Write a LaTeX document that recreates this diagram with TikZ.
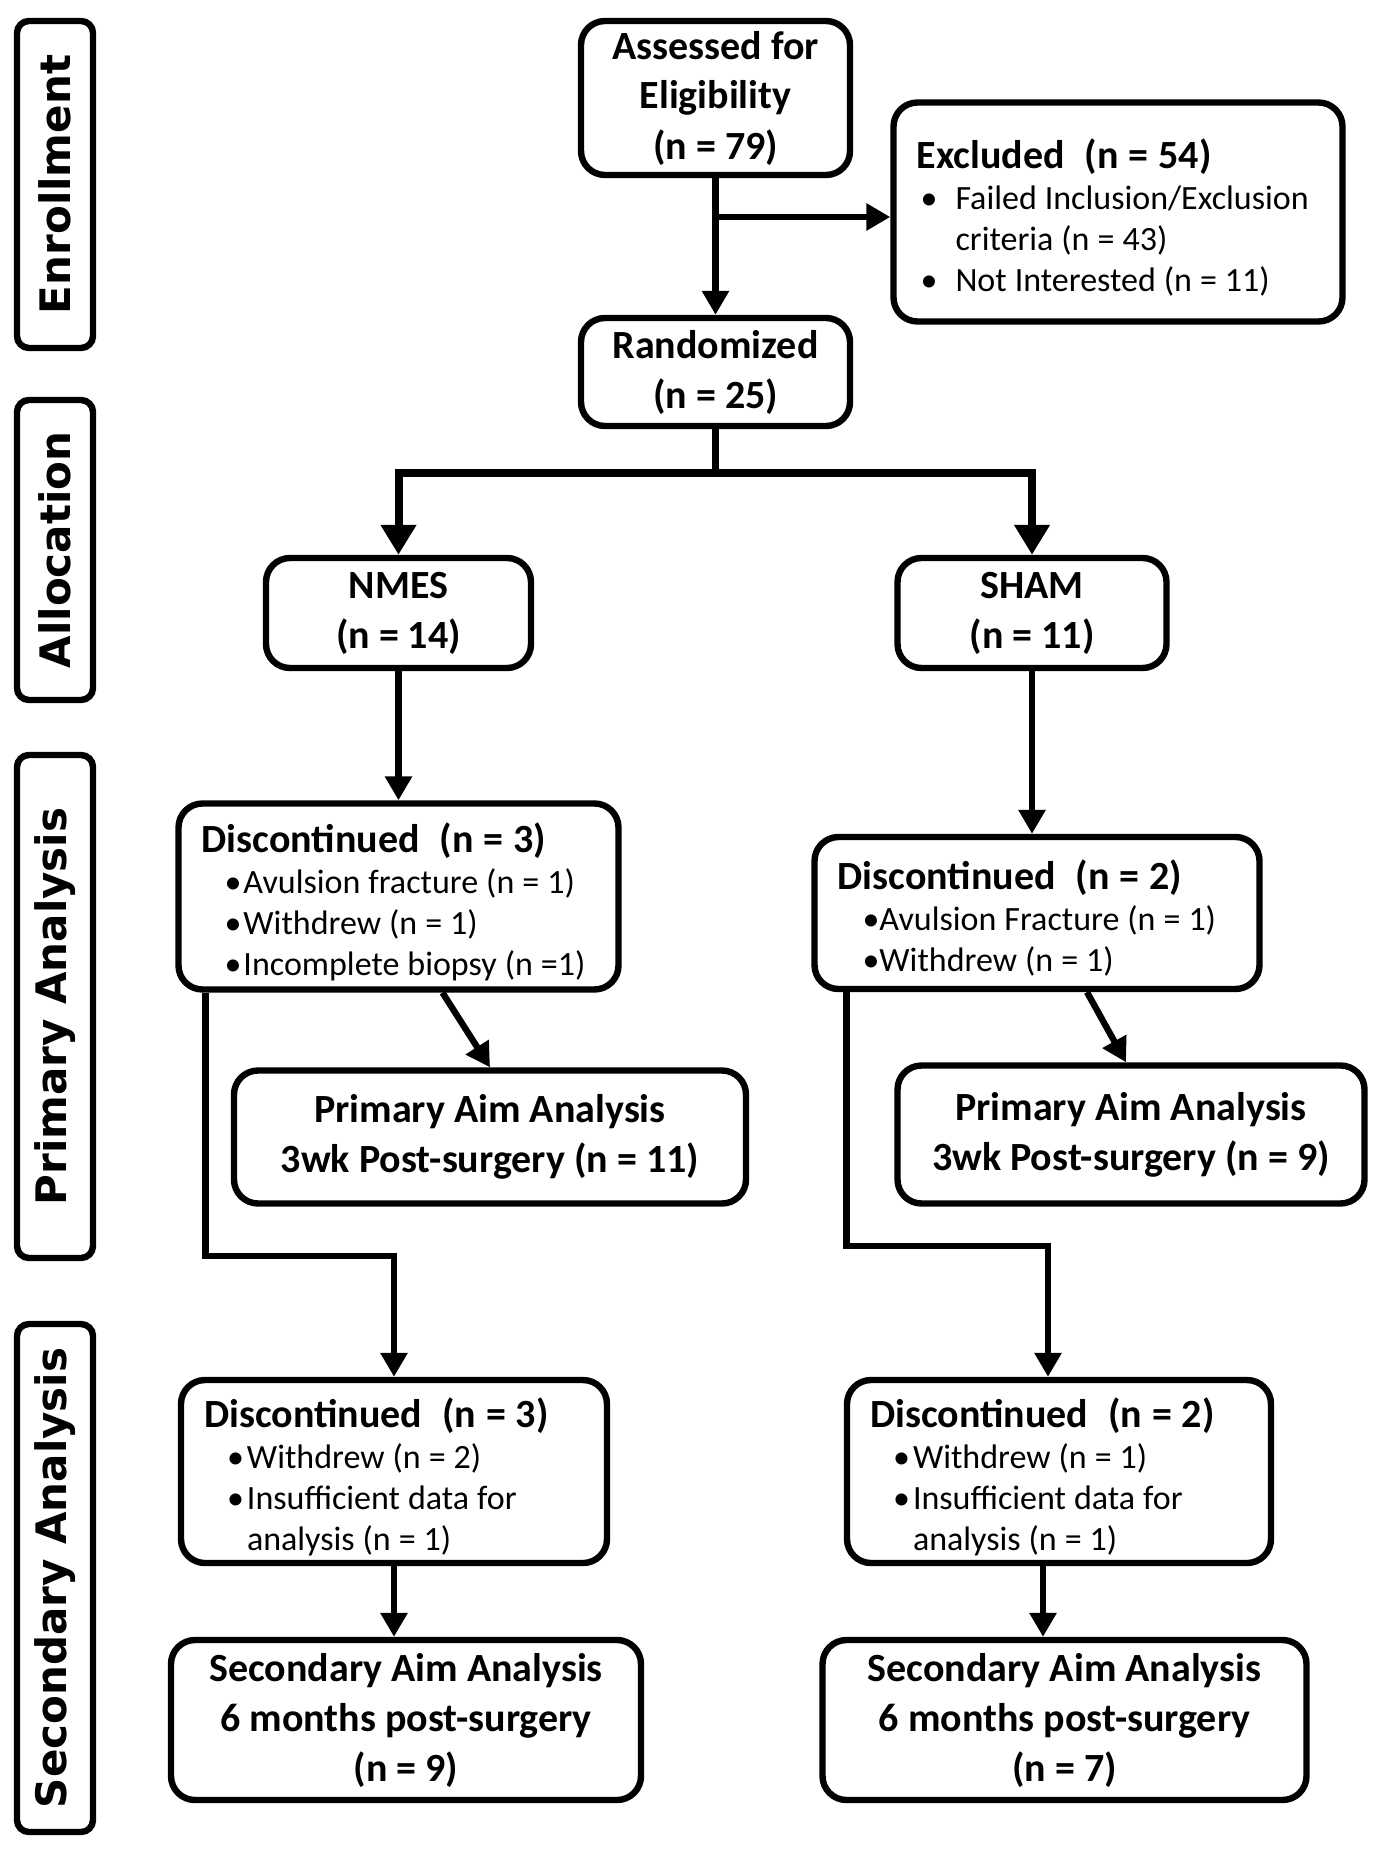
\documentclass[tikz,border=0pt]{standalone}
\usepackage{fontspec}
\setmainfont{Carlito}
\newfontfamily\sidefont{DejaVu Sans}
\usetikzlibrary{arrows.meta}
\newcommand{\hd}{\fontsize{20}{25}\selectfont\bfseries}
\newcommand{\listhd}{\hd\spaceskip=.25em\relax}
\newcommand{\bt}{\fontsize{17}{20.5}\selectfont\mdseries\fontdimen2\font=4pt\relax}
\newcommand{\bl}[3]{\hspace*{#1}\makebox[#2][l]{\textbullet}#3}
\newcommand{\hstrut}{\rule{0pt}{20pt}}
\tikzset{
  box/.style={draw, line width=3.2pt, rounded corners=12pt, align=center, inner sep=0pt, font=\hd},
  listbox/.style={box, align=flush left, inner xsep=11.5pt, font=\bt},
  sidebox/.style={draw, line width=3.2pt, rounded corners=6pt, inner sep=0pt, rotate=90, minimum height=38pt, font=\sidefont\bfseries\fontsize{21}{25}\selectfont},
  conn/.style={line width=3.2pt, -{Triangle[width=13pt,length=12pt]}},
  alloc/.style={line width=4pt, -{Triangle[width=17pt,length=15pt]}},
  plain/.style={line width=3.6pt}
}
\begin{document}
\begin{tikzpicture}[x=0.5pt,y=-0.5pt]
\fill[white] (0,0) rectangle (1381,1850);
\useasboundingbox (0,0) rectangle (1381,1850);

% side labels
\node[sidebox, minimum width=163.5pt] (senr) at (55,184.5) {Enrollment};
\node[sidebox, minimum width=150pt] (salloc) at (55,550) {Allocation};
\node[sidebox, minimum width=251.5pt] (sprim) at (55,1006.5) {Primary Analysis};
\node[sidebox, minimum width=254pt] (ssec) at (55,1578) {Secondary Analysis};

% main boxes
\node[box, minimum width=134.5pt, minimum height=77pt] (assess) at (715.5,98) {Assessed for\\Eligibility\\(n = 79)};
\node[box, minimum width=134.5pt, minimum height=54pt] (rand) at (715.5,372) {Randomized\\(n = 25)};
\node[listbox, text width=201.5pt, minimum height=109.5pt] (excl) at (1118,212)
 {\hstrut{\listhd Excluded~~(n = 54)}\\
  \bl{2pt}{17.5pt}{Failed Inclusion/Exclusion}\\
  \hspace*{19.5pt}criteria (n = 43)\\
  \bl{2pt}{17.5pt}{Not Interested (n = 11)}};

\node[box, minimum width=132.5pt, minimum height=55pt] (nmes) at (398.5,613) {NMES\\(n = 14)};
\node[box, minimum width=134.5pt, minimum height=55pt] (sham) at (1032,613) {SHAM\\(n = 11)};

\node[listbox, text width=197pt, minimum height=93pt] (d1n) at (398.5,896.5)
 {\hstrut{\listhd Discontinued~~(n = 3)}\\
  \bl{11.5pt}{9.5pt}{Avulsion fracture (n = 1)}\\
  \bl{11.5pt}{9.5pt}{Withdrew (n = 1)}\\
  \bl{11.5pt}{9.5pt}{Incomplete biopsy (n =1)}};
\node[listbox, text width=199.5pt, minimum height=76pt] (d1s) at (1037,913)
 {\hstrut{\listhd Discontinued~~(n = 2)}\\
  \bl{12.5pt}{8.5pt}{Avulsion Fracture (n = 1)}\\
  \bl{12.5pt}{8.5pt}{Withdrew (n = 1)}};

\node[box, minimum width=256pt, minimum height=66.5pt] (p1n) at (490,1137) {Primary Aim Analysis\\3wk Post-surgery (n = 11)};
\node[box, minimum width=233.5pt, minimum height=69pt] (p1s) at (1131,1134.5) {Primary Aim Analysis\\3wk Post-surgery (n = 9)};

\node[listbox, text width=190pt, minimum height=91.5pt] (d2n) at (394,1471.5)
 {\hstrut{\listhd Discontinued~~(n = 3)}\\
  \bl{11.5pt}{10pt}{Withdrew (n = 2)}\\
  \bl{11.5pt}{10pt}{Insufficient data for}\\
  \hspace*{21.5pt}analysis (n = 1)};
\node[listbox, text width=189pt, minimum height=91.5pt] (d2s) at (1059,1471.5)
 {\hstrut{\listhd Discontinued~~(n = 2)}\\
  \bl{11.5pt}{10pt}{Withdrew (n = 1)}\\
  \bl{11.5pt}{10pt}{Insufficient data for}\\
  \hspace*{21.5pt}analysis (n = 1)};

\node[box, minimum width=235pt, minimum height=80pt] (p2n) at (406,1720) {Secondary Aim Analysis\\6 months post-surgery\\(n = 9)};
\node[box, minimum width=242pt, minimum height=80pt] (p2s) at (1064.5,1720) {Secondary Aim Analysis\\6 months post-surgery\\(n = 7)};

% connectors
\coordinate (brx) at (715.5,217);
\coordinate (split) at (715.5,473);
\draw[conn] (assess.south) -- (rand.north);
\draw[conn] (brx) -- (brx -| excl.west);
\draw[plain] (rand.south) -- (split);
\draw[alloc] (split) -| (nmes.north);
\draw[alloc] (split) -| (sham.north);
\draw[conn] (nmes.south) -- (d1n.north);
\draw[conn] (sham.south) -- (sham.south |- d1s.north);
\draw[conn] ([xshift=22pt]d1n.south) -- (p1n.north);
\draw[conn] ([xshift=25pt]d1s.south) -- ([xshift=-2.5pt]p1s.north);
\draw[conn] ([xshift=15pt]d1n.south west) -- ++(0,263) -| (d2n.north);
\draw[conn] ([xshift=17.5pt]d1s.south west) -- ++(0,254) -| ([xshift=-5.5pt]d2s.north);
\draw[conn] (d2n.south) -- (d2n.south |- p2n.north);
\draw[conn] ([xshift=-8pt]d2s.south) -- ([xshift=-8pt]d2s.south |- p2s.north);
\end{tikzpicture}
\end{document}
